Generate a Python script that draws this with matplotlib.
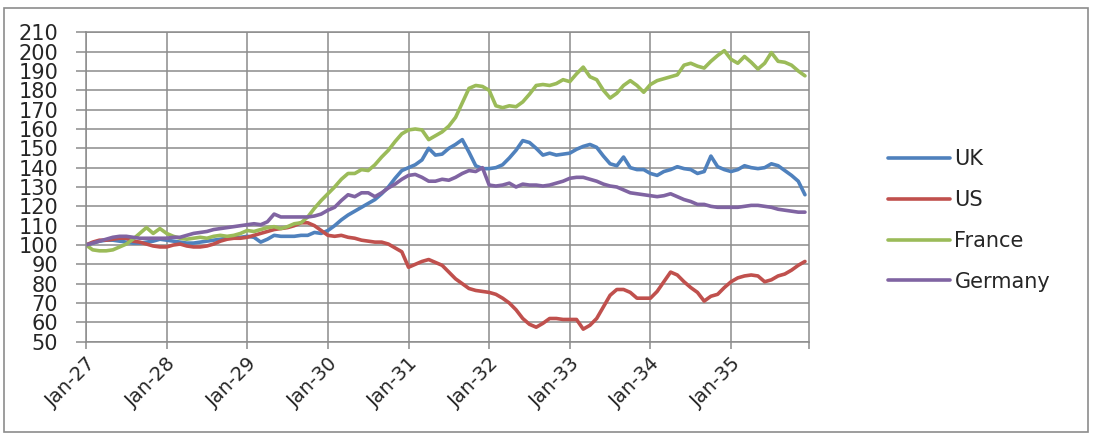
import matplotlib
matplotlib.use("Agg")
import matplotlib.pyplot as plt
from matplotlib.patches import Rectangle

# ---- data (monthly index values, Jan-27 .. Dec-35) ----
tick_labels = ["Jan-27", "Jan-28", "Jan-29", "Jan-30", "Jan-31",
               "Jan-32", "Jan-33", "Jan-34", "Jan-35"]

uk = [100, 101, 102, 102.5, 102.5, 102, 101.5, 101, 101, 101.5, 102, 103,
      102.5, 102, 101.5, 101, 101, 101.5, 102, 102.5, 103, 103.5, 104, 104,
      104.5, 104, 101.5, 103, 105, 104.5, 104.5, 104.5, 105, 105, 106.5, 106,
      107.5, 110, 113, 115.5, 117.5, 119.5, 121.5, 123.5, 126.5, 130, 134.5, 138.5,
      140, 141.5, 144, 150, 146.5, 147, 150, 152, 154.5, 148, 141, 139.5,
      139.5, 140, 141.5, 145, 149, 154, 153, 150, 146.5, 147.5, 146.5, 147,
      147.5, 149.5, 151, 152, 150.5, 146, 142, 141, 145.5, 140, 139, 139,
      137, 136, 138, 139, 140.5, 139.5, 139, 137, 138, 146, 140.5, 139,
      138, 139, 141, 140, 139.5, 140, 142, 141, 138.5, 136, 133, 126]

us = [100, 101.5, 102.5, 102.5, 103, 103.5, 103.5, 102, 101.5, 100.5, 99.5, 99,
      99, 100, 100.5, 99.5, 99, 99, 99.5, 100.5, 102, 103, 103.5, 103.5,
      104, 105, 106, 107, 108, 108.5, 109, 110, 111.5, 111.5, 110, 107.5,
      105, 104.5, 105, 104, 103.5, 102.5, 102, 101.5, 101.5, 100.5, 98.5, 96.5,
      88.5, 90, 91.5, 92.5, 91, 89.5, 86, 82.5, 80, 77.5, 76.5, 76,
      75.5, 74.5, 72.5, 70, 66.5, 62, 59, 57.5, 59.5, 62, 62, 61.5,
      61.5, 61.5, 56.5, 58.5, 62, 68, 74, 77, 77, 75.5, 72.5, 72.5,
      72.5, 76, 81, 86, 84.5, 81, 78, 75.5, 71, 73.5, 74.5, 78,
      81, 83, 84, 84.5, 84, 81, 82, 84, 85, 87, 89.5, 91.5]

france = [100, 97.5, 97, 97, 97.5, 99, 100.5, 103, 106, 109, 106, 108.5,
          106, 104.5, 103.5, 103, 103.5, 104, 103.5, 104.5, 105, 104.5, 105, 106,
          107.5, 107, 108, 109, 109.5, 108.5, 109.5, 111, 111.5, 114.5, 119, 123,
          126.5, 130, 134, 137, 137, 139, 138.5, 141.5, 145.5, 149, 153.5, 157.5,
          159.5, 160, 159.5, 154.5, 156.5, 158.5, 161.5, 166, 173.5, 181, 182.5, 182,
          180, 172, 171, 172, 171.5, 174, 178, 182.5, 183, 182.5, 183.5, 185.5,
          184.5, 188.5, 192, 187, 185.5, 180, 176, 178.5, 182.5, 185, 182.5, 179,
          183, 185, 186, 187, 188, 193, 194, 192.5, 191.5, 195, 198, 200.5,
          196, 194, 197.5, 194.5, 191, 194, 199.5, 195, 194.5, 193, 190, 187.5]

germany = [100, 101, 102, 103, 104, 104.5, 104.5, 104, 103.5, 103.5, 103.5, 103.5,
           103.5, 104, 104, 105, 106, 106.5, 107, 108, 108.5, 109, 109.5, 110,
           110.5, 111, 110.5, 112, 116, 114.5, 114.5, 114.5, 114.5, 114.5, 115, 116,
           118, 119.5, 123, 126, 125, 127, 127, 125, 127, 129.5, 131.5, 134,
           136, 136.5, 135, 133, 133, 134, 133.5, 135, 137, 138.5, 138, 140,
           131, 130.5, 131, 132, 130, 131.5, 131, 131, 130.5, 131, 132, 133,
           134.5, 135, 135, 134, 133, 131.5, 130.5, 130, 128.5, 127, 126.5, 126,
           125.5, 125, 125.5, 126.5, 125, 123.5, 122.5, 121, 121, 120, 119.5, 119.5,
           119.5, 119.5, 120, 120.5, 120.5, 120, 119.5, 118.5, 118, 117.5, 117, 117]

series_names = ["UK", "US", "France", "Germany"]
series_colors = ["#4F81BD", "#C0504D", "#9BBB59", "#8064A2"]

# ---- figure ----
W, H = 1102, 438
fig = plt.figure(figsize=(W / 100, H / 100), dpi=100)
plt.rcParams['font.family'] = ['DejaVu Sans']

ax = fig.add_axes([86 / W, 1 - 341.7 / H, (809 - 86) / W, (341.7 - 32.3) / H])

grid_c = "#8C8C8C"
text_c = "#262626"

x = list(range(len(uk)))
for vals, name, col in zip([uk, us, france, germany], series_names, series_colors):
    ax.plot(x, vals, color=col, lw=2.6, label=name, solid_capstyle='round',
            solid_joinstyle='round')

ax.set_xlim(0, 107.6)
ax.set_ylim(50, 210)
ax.set_yticks(range(50, 211, 10))
ax.set_xticks([12 * i for i in range(len(tick_labels))])
ax.set_xticks([107.6], minor=True)
ax.set_xticklabels(tick_labels, rotation=45, ha='right', va='top',
                   rotation_mode='anchor', fontsize=14, color=text_c)
for lab in ax.get_yticklabels():
    lab.set_fontsize(15)
    lab.set_color(text_c)

ax.grid(True, color=grid_c, lw=1.1)
ax.set_axisbelow(True)
for s in ax.spines.values():
    s.set_color(grid_c)
    s.set_linewidth(1.1)
ax.tick_params(axis='y', length=7, width=1.1, color=grid_c, pad=13)
ax.tick_params(axis='x', which='both', length=5, width=1.1, color=grid_c, pad=4)

ax.legend(loc='center left', bbox_to_anchor=(869 / W, 1 - 220.5 / H),
          bbox_transform=fig.transFigure, frameon=False, fontsize=15,
          handlelength=3.0, handletextpad=0.2, labelspacing=1.0,
          labelcolor=text_c)

# outer chart border
fig.patches.append(Rectangle((4 / W, 1 - 432 / H), (1088 - 4) / W, (432 - 8) / H,
                             transform=fig.transFigure, fill=False,
                             edgecolor=grid_c, lw=1.2))

fig.savefig("out.png", dpi=100)
